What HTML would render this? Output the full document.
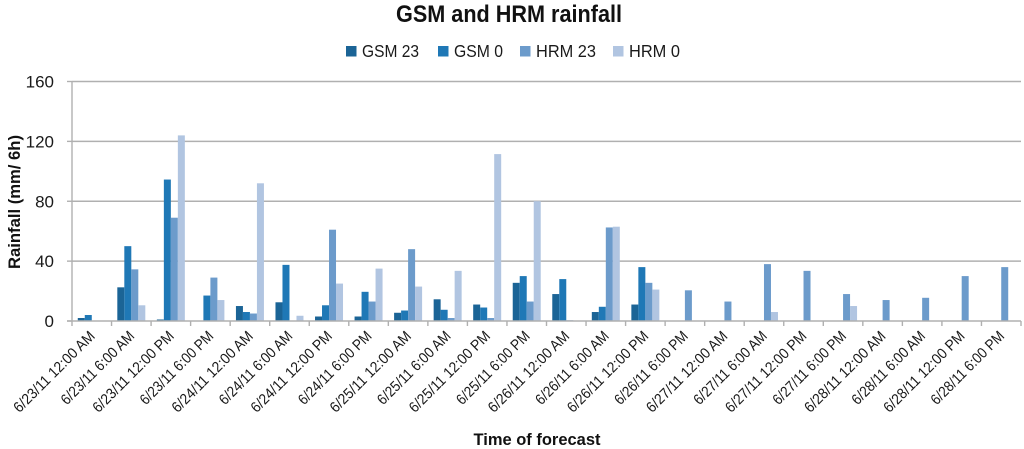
<!DOCTYPE html>
<html>
<head>
<meta charset="utf-8">
<style>
html,body{margin:0;padding:0;background:#fff;}
svg{display:block;filter:blur(0.35px);}
text{font-family:"Liberation Sans",sans-serif;fill:#1a1a1a;}
</style>
</head>
<body>
<svg id="chart" xmlns="http://www.w3.org/2000/svg" width="1024" height="449" viewBox="0 0 1024 449">
  <rect x="0" y="0" width="1024" height="449" fill="#ffffff"/>
  <text x="509" y="22" text-anchor="middle" font-size="24" font-weight="bold" textLength="226" lengthAdjust="spacingAndGlyphs" style="fill:#111">GSM and HRM rainfall</text>
  <text transform="translate(20,202) rotate(-90)" text-anchor="middle" font-size="16.5" font-weight="bold" textLength="134" lengthAdjust="spacingAndGlyphs" style="fill:#111">Rainfall (mm/ 6h)</text>
  <text x="537" y="445" text-anchor="middle" font-size="17" font-weight="bold" textLength="127" lengthAdjust="spacingAndGlyphs" style="fill:#111">Time of forecast</text>
  <g id="grid"></g>
  <g id="bars"></g>
  <g id="axes"></g>
  <g id="legend"></g>
</svg>
<script>
const categories = [
  "6/23/11 12:00 AM","6/23/11 6:00 AM","6/23/11 12:00 PM","6/23/11 6:00 PM",
  "6/24/11 12:00 AM","6/24/11 6:00 AM","6/24/11 12:00 PM","6/24/11 6:00 PM",
  "6/25/11 12:00 AM","6/25/11 6:00 AM","6/25/11 12:00 PM","6/25/11 6:00 PM",
  "6/26/11 12:00 AM","6/26/11 6:00 AM","6/26/11 12:00 PM","6/26/11 6:00 PM",
  "6/27/11 12:00 AM","6/27/11 6:00 AM","6/27/11 12:00 PM","6/27/11 6:00 PM",
  "6/28/11 12:00 AM","6/28/11 6:00 AM","6/28/11 12:00 PM","6/28/11 6:00 PM"
];
const seriesNames = ["GSM 23","GSM 0","HRM 23","HRM 0"];
const gsm23 = [2,22.5,1,0,10,12.5,3,3,5.5,14.5,11,25.5,18,6,11,0,0,0,0,0,0,0,0,0];
const gsm0  = [4,50,94.5,17,6,37.5,10.5,19.5,7,7.5,9,30,28,9.5,36,0,0,0,0,0,0,0,0,0];
const hrm23 = [0,34.5,69,29,5,0,61,13,48,2,2,13,0.5,62.5,25.5,20.5,13,38,33.5,18,14,15.5,30,36];
const hrm0  = [0,10.5,124,14,92,3.5,25,35,23,33.5,111.5,80,0,63,21,0,0,6,0,10,0,0,0,0];
const yTicks = [0,40,80,120,160];

const NS = "http://www.w3.org/2000/svg";
const seriesValues = [gsm23, gsm0, hrm23, hrm0];
const seriesColors = ["#1b6496","#1f78b6","#6c9bcb","#b1c5e1"];
const plot = {left:72, right:1021, top:81.5, bottom:321};
const yMax = yTicks[yTicks.length-1];
function yScale(v){ return plot.bottom - (v / yMax) * (plot.bottom - plot.top); }
const catWidth = (plot.right - plot.left) / categories.length;
const barWidth = catWidth * 0.177;
const groupPad = (catWidth - barWidth * seriesNames.length) / 2;
function xScale(catIndex, seriesIndex){ return plot.left + catIndex * catWidth + groupPad + seriesIndex * barWidth; }
function make(tag, attrs, parent){
  const el = document.createElementNS(NS, tag);
  for (const k in attrs) el.setAttribute(k, attrs[k]);
  parent.appendChild(el);
  return el;
}
const gridG = document.getElementById("grid");
const barsG = document.getElementById("bars");
const axesG = document.getElementById("axes");
const legendG = document.getElementById("legend");

yTicks.forEach(function(t){
  const y = yScale(t);
  if (t !== 0) {
    const line = make("line", {x1:plot.left, x2:plot.right, y1:y, y2:y, stroke:"#b0b0b0", "stroke-width":1.4}, gridG);
    
    
  }
  const tick = make("line", {x1:plot.left-5, x2:plot.left, y1:y, y2:y, stroke:"#b0b0b0", "stroke-width":1.4}, axesG);
  
  
  const label = make("text", {x:54, y:y+6, "text-anchor":"end", "font-size":17}, axesG);
  
  
  label.textContent = t;
});

seriesValues.forEach(function(values, s){
  values.forEach(function(v, c){
    if (!v) return;
    const y = yScale(v);
    const bar = make("rect", {x:xScale(c, s), y:y, width:barWidth, height:plot.bottom - y, fill:seriesColors[s]}, barsG);
    
    
  });
});

const yAxis = make("line", {x1:plot.left, x2:plot.left, y1:plot.top, y2:plot.bottom+5, stroke:"#b0b0b0", "stroke-width":1.4}, axesG);


const xAxis = make("line", {x1:plot.left-5, x2:plot.right, y1:plot.bottom, y2:plot.bottom, stroke:"#b0b0b0", "stroke-width":1.4}, axesG);



for (let i = 1; i <= categories.length; i++) {
  const x = plot.left + i * catWidth;
  const tick = make("line", {x1:x, x2:x, y1:plot.bottom, y2:plot.bottom+5, stroke:"#b0b0b0", "stroke-width":1.4}, axesG);
  
  
}

categories.forEach(function(name, c){
  const x = plot.left + (c + 0.5) * catWidth + 4;
  const y = 337;
  const label = make("text", {x:x, y:y, "text-anchor":"end", "font-size":15, transform:"rotate(-45 " + x + " " + y + ")"}, axesG);
  
  
  label.textContent = name;
  label.setAttribute("textLength", name.length >= 16 ? 108 : 97);
  label.setAttribute("lengthAdjust", "spacingAndGlyphs");
});

const legendStarts = [346, 438, 520, 613];
const legendWidths = [57, 49, 60, 51];
seriesNames.forEach(function(name, s){
  const swatch = make("rect", {x:legendStarts[s], y:46, width:10.5, height:10.5, fill:seriesColors[s]}, legendG);
  
  
  const label = make("text", {x:legendStarts[s]+16, y:57, "font-size":17.5, textLength:legendWidths[s], lengthAdjust:"spacingAndGlyphs"}, legendG);
  
  
  label.textContent = name;
});
</script>
</body>
</html>
